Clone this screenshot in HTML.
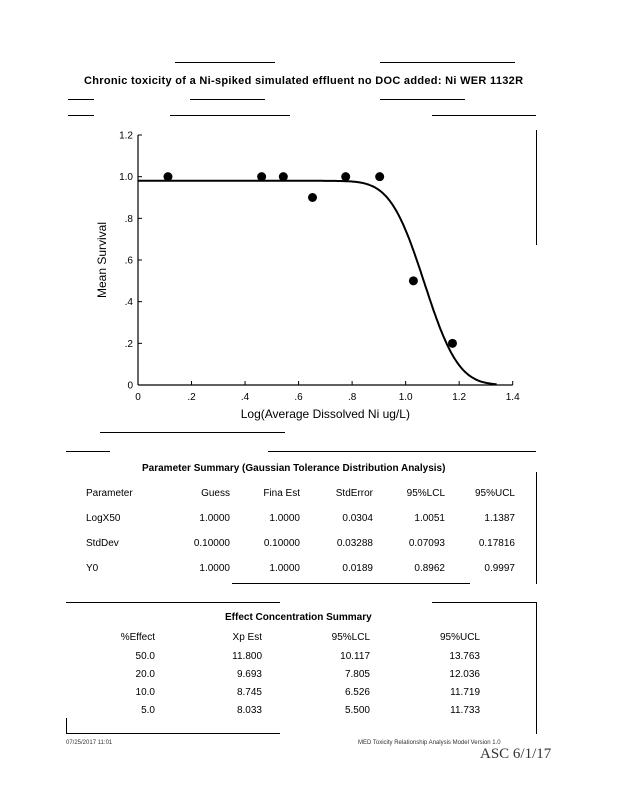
<!DOCTYPE html>
<html><head><meta charset="utf-8"><style>
body{margin:0;background:#fff;width:618px;height:800px;overflow:hidden;font-family:"Liberation Sans",sans-serif;color:#000}
.t{position:absolute;font-size:10px;white-space:nowrap}
.r{text-align:right}
.ln{position:absolute;background:#000}
</style></head><body>
<div style="position:relative;width:618px;height:800px">
<div class="ln" style="left:175px;top:62px;width:100px;height:1px"></div>
<div class="ln" style="left:380px;top:62px;width:135px;height:1px"></div>
<div class="t" style="left:84px;top:75px;font-size:11px;font-weight:bold;letter-spacing:0.3px">Chronic toxicity of a Ni-spiked simulated effluent no DOC added: Ni WER 1132R</div>
<div class="ln" style="left:68px;top:99px;width:26px;height:1px"></div>
<div class="ln" style="left:190px;top:99px;width:75px;height:1px"></div>
<div class="ln" style="left:380px;top:99px;width:85px;height:1px"></div>
<div class="ln" style="left:68px;top:115px;width:26px;height:1px"></div>
<div class="ln" style="left:170px;top:115px;width:120px;height:1px"></div>
<div class="ln" style="left:432px;top:115px;width:104px;height:1px"></div>
<div class="ln" style="left:536px;top:130px;width:1px;height:115px"></div>
<svg id="chart" width="618" height="450" style="position:absolute;left:0;top:0" font-family="Liberation Sans, sans-serif" font-size="10"></svg>
<div class="ln" style="left:100px;top:432px;width:185px;height:1px"></div>

<div class="ln" style="left:66px;top:451px;width:44px;height:1px"></div>
<div class="ln" style="left:268px;top:451px;width:268px;height:1px"></div>
<div class="ln" style="left:536px;top:472px;width:1px;height:112px"></div>
<div class="t" style="left:142px;top:463px;font-weight:bold">Parameter Summary (Gaussian Tolerance Distribution Analysis)</div>
<div>
<div class="t" style="left:86px;top:488px">Parameter</div><div class="t r" style="left:170px;width:60px;top:488px">Guess</div><div class="t r" style="left:240px;width:60px;top:488px">Fina Est</div><div class="t r" style="left:313px;width:60px;top:488px">StdError</div><div class="t r" style="left:385px;width:60px;top:488px">95%LCL</div><div class="t r" style="left:455px;width:60px;top:488px">95%UCL</div>
<div class="t" style="left:86px;top:513px">LogX50</div><div class="t r" style="left:170px;width:60px;top:513px">1.0000</div><div class="t r" style="left:240px;width:60px;top:513px">1.0000</div><div class="t r" style="left:313px;width:60px;top:513px">0.0304</div><div class="t r" style="left:385px;width:60px;top:513px">1.0051</div><div class="t r" style="left:455px;width:60px;top:513px">1.1387</div>
<div class="t" style="left:86px;top:538px">StdDev</div><div class="t r" style="left:170px;width:60px;top:538px">0.10000</div><div class="t r" style="left:240px;width:60px;top:538px">0.10000</div><div class="t r" style="left:313px;width:60px;top:538px">0.03288</div><div class="t r" style="left:385px;width:60px;top:538px">0.07093</div><div class="t r" style="left:455px;width:60px;top:538px">0.17816</div>
<div class="t" style="left:86px;top:563px">Y0</div><div class="t r" style="left:170px;width:60px;top:563px">1.0000</div><div class="t r" style="left:240px;width:60px;top:563px">1.0000</div><div class="t r" style="left:313px;width:60px;top:563px">0.0189</div><div class="t r" style="left:385px;width:60px;top:563px">0.8962</div><div class="t r" style="left:455px;width:60px;top:563px">0.9997</div>
</div>
<div class="ln" style="left:232px;top:583px;width:238px;height:1px"></div>

<div class="ln" style="left:66px;top:602px;width:214px;height:1px"></div>
<div class="ln" style="left:432px;top:602px;width:104px;height:1px"></div>
<div class="ln" style="left:536px;top:602px;width:1px;height:132px"></div>
<div class="ln" style="left:66px;top:718px;width:1px;height:16px"></div>
<div class="ln" style="left:66px;top:733px;width:214px;height:1px"></div>
<div class="t" style="left:225px;top:612px;font-weight:bold">Effect Concentration Summary</div>
<div>
<div class="t r" style="left:100px;width:55px;top:632px">%Effect</div><div class="t r" style="left:200px;width:62px;top:632px">Xp Est</div><div class="t r" style="left:310px;width:60px;top:632px">95%LCL</div><div class="t r" style="left:420px;width:60px;top:632px">95%UCL</div>
<div class="t r" style="left:100px;width:55px;top:651px">50.0</div><div class="t r" style="left:200px;width:62px;top:651px">11.800</div><div class="t r" style="left:310px;width:60px;top:651px">10.117</div><div class="t r" style="left:420px;width:60px;top:651px">13.763</div>
<div class="t r" style="left:100px;width:55px;top:669px">20.0</div><div class="t r" style="left:200px;width:62px;top:669px">9.693</div><div class="t r" style="left:310px;width:60px;top:669px">7.805</div><div class="t r" style="left:420px;width:60px;top:669px">12.036</div>
<div class="t r" style="left:100px;width:55px;top:687px">10.0</div><div class="t r" style="left:200px;width:62px;top:687px">8.745</div><div class="t r" style="left:310px;width:60px;top:687px">6.526</div><div class="t r" style="left:420px;width:60px;top:687px">11.719</div>
<div class="t r" style="left:100px;width:55px;top:705px">5.0</div><div class="t r" style="left:200px;width:62px;top:705px">8.033</div><div class="t r" style="left:310px;width:60px;top:705px">5.500</div><div class="t r" style="left:420px;width:60px;top:705px">11.733</div>
</div>
<div class="t" style="left:66px;top:740px;font-size:6px;color:#333">07/25/2017 11:01</div>
<div class="t" style="left:358px;top:740px;font-size:6px;color:#333">MED Toxicity Relationship Analysis Model Version 1.0</div>
<div class="t" style="left:480px;top:746px;font-size:15px;font-family:'Liberation Serif',serif;color:#333">ASC 6/1/17</div>
</div>
<script>
const xs=[0.112,0.462,0.543,0.652,0.776,0.903,1.029,1.175];
const ys=[1.0,1.0,1.0,0.9,1.0,1.0,0.5,0.2];
const xTicks=[0,0.2,0.4,0.6,0.8,1.0,1.2,1.4];
const xTickLabels=["0",".2",".4",".6",".8","1.0","1.2","1.4"];
const yTicks=[0,0.2,0.4,0.6,0.8,1.0,1.2];
const yTickLabels=["0",".2",".4",".6",".8","1.0","1.2"];
const fitParams=[1.07,0.1,0.98];
const X=v=>138+v/1.4*374.7, Y=v=>385-v/1.2*250;
const svg=document.getElementById('chart'),NS='http://www.w3.org/2000/svg';
function mk(t,a){const e=document.createElementNS(NS,t);for(const k in a)e.setAttribute(k,a[k]);svg.appendChild(e);return e;}
let e=mk('line',{x1:138,y1:Y(1.2),x2:138,y2:385,stroke:'#000','stroke-width':1.2});

e=mk('line',{x1:138,y1:385,x2:X(1.4),y2:385,stroke:'#000','stroke-width':1.2});

xTicks.forEach((v,i)=>{mk('line',{x1:X(v),y1:385,x2:X(v),y2:381,stroke:'#000'});
const t=mk('text',{x:X(v),y:400,'text-anchor':'middle'});t.textContent=xTickLabels[i];
});
yTicks.forEach((v,i)=>{mk('line',{x1:138,y1:Y(v),x2:142,y2:Y(v),stroke:'#000'});
const t=mk('text',{x:133,y:Y(v)+3.5,'text-anchor':'end'});t.textContent=yTickLabels[i];
});
let t=mk('text',{x:X(0.7),y:418,'text-anchor':'middle','font-size':12});t.textContent='Log(Average Dissolved Ni ug/L)';

t=mk('text',{x:0,y:0,'text-anchor':'middle','font-size':12,transform:'translate(106,'+Y(0.6)+') rotate(-90)'});t.textContent='Mean Survival';

function erf(x){const s=Math.sign(x);x=Math.abs(x);const a=1/(1+0.3275911*x);return s*(1-(((((1.061405429*a-1.453152027)*a)+1.421413741)*a-0.284496736)*a+0.254829592)*a*Math.exp(-x*x));}
let d='';for(let v=0;v<=1.34;v+=0.005){const p=fitParams[2]*(1-0.5*(1+erf((v-fitParams[0])/(fitParams[1]*Math.SQRT2))));d+=(d?'L':'M')+X(v).toFixed(1)+','+Y(p).toFixed(1);}
e=mk('path',{d:d,fill:'none',stroke:'#000','stroke-width':2});

xs.forEach((v,i)=>{const c=mk('circle',{cx:X(v),cy:Y(ys[i]),r:4.5,fill:'#000'});
});
</script>
</body></html>
